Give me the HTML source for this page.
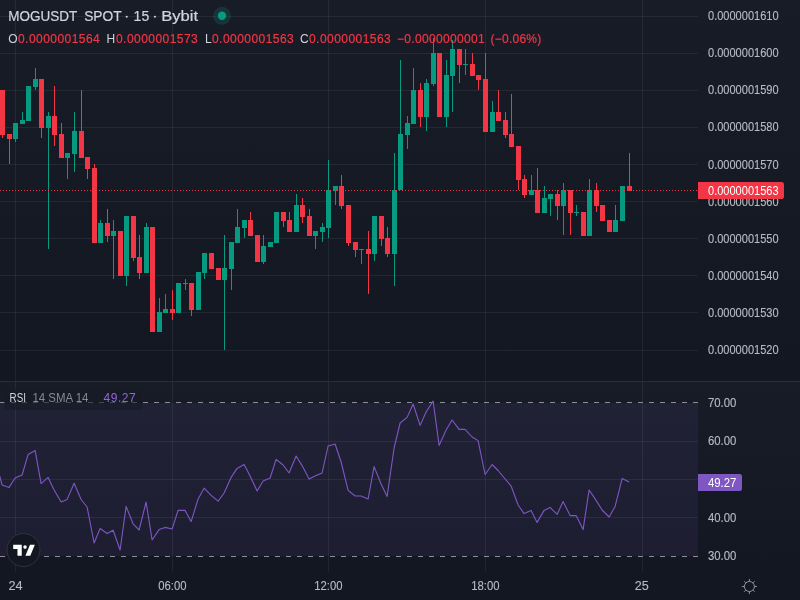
<!DOCTYPE html>
<html><head><meta charset="utf-8"><title>MOGUSDT SPOT 15 Bybit</title>
<style>
html,body{margin:0;padding:0;background:#131722;overflow:hidden;}
body{width:800px;height:600px;font-family:"Liberation Sans",sans-serif;}
svg{display:block;will-change:transform;}
</style></head><body>
<svg width="800" height="600" viewBox="0 0 800 600">
<defs><linearGradient id="bg" x1="0" y1="0" x2="0" y2="1"><stop offset="0" stop-color="#181c27"/><stop offset="1" stop-color="#131722"/></linearGradient></defs>
<rect x="0" y="0" width="800" height="600" fill="#131722"/>
<rect x="0" y="0" width="800" height="381" fill="url(#bg)"/>
<rect x="0" y="382" width="800" height="190" fill="url(#bg)"/>
<rect x="0" y="403" width="698" height="153" fill="#7e57c2" fill-opacity="0.1"/>
<g fill="#f0f3fa" fill-opacity="0.065" shape-rendering="crispEdges">
<rect x="15" y="0" width="1" height="381"/>
<rect x="15" y="382" width="1" height="190"/>
<rect x="172" y="0" width="1" height="381"/>
<rect x="172" y="382" width="1" height="190"/>
<rect x="328" y="0" width="1" height="381"/>
<rect x="328" y="382" width="1" height="190"/>
<rect x="485" y="0" width="1" height="381"/>
<rect x="485" y="382" width="1" height="190"/>
<rect x="642" y="0" width="1" height="381"/>
<rect x="642" y="382" width="1" height="190"/>
<rect x="0" y="16" width="698" height="1"/>
<rect x="0" y="53" width="698" height="1"/>
<rect x="0" y="90" width="698" height="1"/>
<rect x="0" y="127" width="698" height="1"/>
<rect x="0" y="164" width="698" height="1"/>
<rect x="0" y="201" width="698" height="1"/>
<rect x="0" y="238" width="698" height="1"/>
<rect x="0" y="275" width="698" height="1"/>
<rect x="0" y="312" width="698" height="1"/>
<rect x="0" y="350" width="698" height="1"/>
</g>
<g fill="#f0f3fa" fill-opacity="0.065" shape-rendering="crispEdges">
<rect x="0" y="441" width="698" height="1"/>
<rect x="0" y="479" width="698" height="1"/>
<rect x="0" y="517" width="698" height="1"/>
</g>
<rect x="0" y="381" width="800" height="1" fill="#2a2e39" shape-rendering="crispEdges"/>
<g fill="#8b8e98" shape-rendering="crispEdges">
<rect x="0" y="402" width="5" height="1"/>
<rect x="11" y="402" width="5" height="1"/>
<rect x="22" y="402" width="5" height="1"/>
<rect x="33" y="402" width="5" height="1"/>
<rect x="44" y="402" width="5" height="1"/>
<rect x="55" y="402" width="5" height="1"/>
<rect x="66" y="402" width="5" height="1"/>
<rect x="77" y="402" width="5" height="1"/>
<rect x="88" y="402" width="5" height="1"/>
<rect x="99" y="402" width="5" height="1"/>
<rect x="110" y="402" width="5" height="1"/>
<rect x="121" y="402" width="5" height="1"/>
<rect x="132" y="402" width="5" height="1"/>
<rect x="143" y="402" width="5" height="1"/>
<rect x="154" y="402" width="5" height="1"/>
<rect x="165" y="402" width="5" height="1"/>
<rect x="176" y="402" width="5" height="1"/>
<rect x="187" y="402" width="5" height="1"/>
<rect x="198" y="402" width="5" height="1"/>
<rect x="209" y="402" width="5" height="1"/>
<rect x="220" y="402" width="5" height="1"/>
<rect x="231" y="402" width="5" height="1"/>
<rect x="242" y="402" width="5" height="1"/>
<rect x="253" y="402" width="5" height="1"/>
<rect x="264" y="402" width="5" height="1"/>
<rect x="275" y="402" width="5" height="1"/>
<rect x="286" y="402" width="5" height="1"/>
<rect x="297" y="402" width="5" height="1"/>
<rect x="308" y="402" width="5" height="1"/>
<rect x="319" y="402" width="5" height="1"/>
<rect x="330" y="402" width="5" height="1"/>
<rect x="341" y="402" width="5" height="1"/>
<rect x="352" y="402" width="5" height="1"/>
<rect x="363" y="402" width="5" height="1"/>
<rect x="374" y="402" width="5" height="1"/>
<rect x="385" y="402" width="5" height="1"/>
<rect x="396" y="402" width="5" height="1"/>
<rect x="407" y="402" width="5" height="1"/>
<rect x="418" y="402" width="5" height="1"/>
<rect x="429" y="402" width="5" height="1"/>
<rect x="440" y="402" width="5" height="1"/>
<rect x="451" y="402" width="5" height="1"/>
<rect x="462" y="402" width="5" height="1"/>
<rect x="473" y="402" width="5" height="1"/>
<rect x="484" y="402" width="5" height="1"/>
<rect x="495" y="402" width="5" height="1"/>
<rect x="506" y="402" width="5" height="1"/>
<rect x="517" y="402" width="5" height="1"/>
<rect x="528" y="402" width="5" height="1"/>
<rect x="539" y="402" width="5" height="1"/>
<rect x="550" y="402" width="5" height="1"/>
<rect x="561" y="402" width="5" height="1"/>
<rect x="572" y="402" width="5" height="1"/>
<rect x="583" y="402" width="5" height="1"/>
<rect x="594" y="402" width="5" height="1"/>
<rect x="605" y="402" width="5" height="1"/>
<rect x="616" y="402" width="5" height="1"/>
<rect x="627" y="402" width="5" height="1"/>
<rect x="638" y="402" width="5" height="1"/>
<rect x="649" y="402" width="5" height="1"/>
<rect x="660" y="402" width="5" height="1"/>
<rect x="671" y="402" width="5" height="1"/>
<rect x="682" y="402" width="5" height="1"/>
<rect x="693" y="402" width="5" height="1"/>
<rect x="0" y="556" width="5" height="1"/>
<rect x="11" y="556" width="5" height="1"/>
<rect x="22" y="556" width="5" height="1"/>
<rect x="33" y="556" width="5" height="1"/>
<rect x="44" y="556" width="5" height="1"/>
<rect x="55" y="556" width="5" height="1"/>
<rect x="66" y="556" width="5" height="1"/>
<rect x="77" y="556" width="5" height="1"/>
<rect x="88" y="556" width="5" height="1"/>
<rect x="99" y="556" width="5" height="1"/>
<rect x="110" y="556" width="5" height="1"/>
<rect x="121" y="556" width="5" height="1"/>
<rect x="132" y="556" width="5" height="1"/>
<rect x="143" y="556" width="5" height="1"/>
<rect x="154" y="556" width="5" height="1"/>
<rect x="165" y="556" width="5" height="1"/>
<rect x="176" y="556" width="5" height="1"/>
<rect x="187" y="556" width="5" height="1"/>
<rect x="198" y="556" width="5" height="1"/>
<rect x="209" y="556" width="5" height="1"/>
<rect x="220" y="556" width="5" height="1"/>
<rect x="231" y="556" width="5" height="1"/>
<rect x="242" y="556" width="5" height="1"/>
<rect x="253" y="556" width="5" height="1"/>
<rect x="264" y="556" width="5" height="1"/>
<rect x="275" y="556" width="5" height="1"/>
<rect x="286" y="556" width="5" height="1"/>
<rect x="297" y="556" width="5" height="1"/>
<rect x="308" y="556" width="5" height="1"/>
<rect x="319" y="556" width="5" height="1"/>
<rect x="330" y="556" width="5" height="1"/>
<rect x="341" y="556" width="5" height="1"/>
<rect x="352" y="556" width="5" height="1"/>
<rect x="363" y="556" width="5" height="1"/>
<rect x="374" y="556" width="5" height="1"/>
<rect x="385" y="556" width="5" height="1"/>
<rect x="396" y="556" width="5" height="1"/>
<rect x="407" y="556" width="5" height="1"/>
<rect x="418" y="556" width="5" height="1"/>
<rect x="429" y="556" width="5" height="1"/>
<rect x="440" y="556" width="5" height="1"/>
<rect x="451" y="556" width="5" height="1"/>
<rect x="462" y="556" width="5" height="1"/>
<rect x="473" y="556" width="5" height="1"/>
<rect x="484" y="556" width="5" height="1"/>
<rect x="495" y="556" width="5" height="1"/>
<rect x="506" y="556" width="5" height="1"/>
<rect x="517" y="556" width="5" height="1"/>
<rect x="528" y="556" width="5" height="1"/>
<rect x="539" y="556" width="5" height="1"/>
<rect x="550" y="556" width="5" height="1"/>
<rect x="561" y="556" width="5" height="1"/>
<rect x="572" y="556" width="5" height="1"/>
<rect x="583" y="556" width="5" height="1"/>
<rect x="594" y="556" width="5" height="1"/>
<rect x="605" y="556" width="5" height="1"/>
<rect x="616" y="556" width="5" height="1"/>
<rect x="627" y="556" width="5" height="1"/>
<rect x="638" y="556" width="5" height="1"/>
<rect x="649" y="556" width="5" height="1"/>
<rect x="660" y="556" width="5" height="1"/>
<rect x="671" y="556" width="5" height="1"/>
<rect x="682" y="556" width="5" height="1"/>
<rect x="693" y="556" width="5" height="1"/>
</g>
<g shape-rendering="crispEdges">
<rect x="2" y="90" width="1" height="48" fill="#f23645"/>
<rect x="0" y="90" width="5" height="45" fill="#f23645"/>
<rect x="9" y="134" width="1" height="30" fill="#f23645"/>
<rect x="7" y="134" width="5" height="5" fill="#f23645"/>
<rect x="15" y="123" width="1" height="19" fill="#089981"/>
<rect x="13" y="123" width="5" height="16" fill="#089981"/>
<rect x="22" y="112" width="1" height="12" fill="#089981"/>
<rect x="20" y="120" width="5" height="4" fill="#089981"/>
<rect x="28" y="86" width="1" height="35" fill="#089981"/>
<rect x="26" y="86" width="5" height="35" fill="#089981"/>
<rect x="35" y="68" width="1" height="22" fill="#089981"/>
<rect x="33" y="79" width="5" height="8" fill="#089981"/>
<rect x="41" y="79" width="1" height="59" fill="#f23645"/>
<rect x="39" y="79" width="5" height="49" fill="#f23645"/>
<rect x="48" y="112" width="1" height="137" fill="#089981"/>
<rect x="46" y="116" width="5" height="12" fill="#089981"/>
<rect x="54" y="86" width="1" height="60" fill="#f23645"/>
<rect x="52" y="116" width="5" height="19" fill="#f23645"/>
<rect x="61" y="123" width="1" height="35" fill="#f23645"/>
<rect x="59" y="134" width="5" height="24" fill="#f23645"/>
<rect x="67" y="153" width="1" height="26" fill="#089981"/>
<rect x="65" y="153" width="5" height="5" fill="#089981"/>
<rect x="74" y="112" width="1" height="60" fill="#089981"/>
<rect x="72" y="131" width="5" height="23" fill="#089981"/>
<rect x="81" y="90" width="1" height="68" fill="#f23645"/>
<rect x="79" y="131" width="5" height="27" fill="#f23645"/>
<rect x="87" y="157" width="1" height="22" fill="#f23645"/>
<rect x="85" y="157" width="5" height="12" fill="#f23645"/>
<rect x="94" y="164" width="1" height="79" fill="#f23645"/>
<rect x="92" y="168" width="5" height="75" fill="#f23645"/>
<rect x="100" y="220" width="1" height="23" fill="#089981"/>
<rect x="98" y="223" width="5" height="20" fill="#089981"/>
<rect x="107" y="209" width="1" height="33" fill="#f23645"/>
<rect x="105" y="223" width="5" height="13" fill="#f23645"/>
<rect x="113" y="220" width="1" height="59" fill="#089981"/>
<rect x="111" y="231" width="5" height="5" fill="#089981"/>
<rect x="120" y="231" width="1" height="45" fill="#f23645"/>
<rect x="118" y="231" width="5" height="45" fill="#f23645"/>
<rect x="126" y="216" width="1" height="70" fill="#089981"/>
<rect x="124" y="216" width="5" height="60" fill="#089981"/>
<rect x="133" y="216" width="1" height="45" fill="#f23645"/>
<rect x="131" y="216" width="5" height="42" fill="#f23645"/>
<rect x="139" y="235" width="1" height="44" fill="#f23645"/>
<rect x="137" y="257" width="5" height="16" fill="#f23645"/>
<rect x="146" y="223" width="1" height="50" fill="#089981"/>
<rect x="144" y="227" width="5" height="46" fill="#089981"/>
<rect x="152" y="227" width="1" height="105" fill="#f23645"/>
<rect x="150" y="227" width="5" height="105" fill="#f23645"/>
<rect x="159" y="298" width="1" height="34" fill="#089981"/>
<rect x="157" y="312" width="5" height="20" fill="#089981"/>
<rect x="165" y="294" width="1" height="19" fill="#089981"/>
<rect x="163" y="309" width="5" height="4" fill="#089981"/>
<rect x="172" y="290" width="1" height="30" fill="#f23645"/>
<rect x="170" y="309" width="5" height="4" fill="#f23645"/>
<rect x="178" y="283" width="1" height="30" fill="#089981"/>
<rect x="176" y="283" width="5" height="30" fill="#089981"/>
<rect x="185" y="279" width="1" height="11" fill="#089981"/>
<rect x="183" y="283" width="5" height="1" fill="#089981"/>
<rect x="191" y="283" width="1" height="33" fill="#f23645"/>
<rect x="189" y="283" width="5" height="27" fill="#f23645"/>
<rect x="198" y="272" width="1" height="38" fill="#089981"/>
<rect x="196" y="272" width="5" height="38" fill="#089981"/>
<rect x="204" y="253" width="1" height="26" fill="#089981"/>
<rect x="202" y="253" width="5" height="20" fill="#089981"/>
<rect x="211" y="253" width="1" height="16" fill="#f23645"/>
<rect x="209" y="253" width="5" height="16" fill="#f23645"/>
<rect x="218" y="268" width="1" height="12" fill="#f23645"/>
<rect x="216" y="268" width="5" height="12" fill="#f23645"/>
<rect x="224" y="235" width="1" height="115" fill="#089981"/>
<rect x="222" y="268" width="5" height="12" fill="#089981"/>
<rect x="231" y="242" width="1" height="48" fill="#089981"/>
<rect x="229" y="242" width="5" height="27" fill="#089981"/>
<rect x="237" y="209" width="1" height="34" fill="#089981"/>
<rect x="235" y="227" width="5" height="16" fill="#089981"/>
<rect x="244" y="220" width="1" height="18" fill="#089981"/>
<rect x="242" y="220" width="5" height="8" fill="#089981"/>
<rect x="250" y="212" width="1" height="24" fill="#f23645"/>
<rect x="248" y="220" width="5" height="16" fill="#f23645"/>
<rect x="257" y="235" width="1" height="27" fill="#f23645"/>
<rect x="255" y="235" width="5" height="27" fill="#f23645"/>
<rect x="263" y="235" width="1" height="29" fill="#089981"/>
<rect x="261" y="246" width="5" height="16" fill="#089981"/>
<rect x="270" y="242" width="1" height="5" fill="#089981"/>
<rect x="268" y="242" width="5" height="5" fill="#089981"/>
<rect x="276" y="212" width="1" height="31" fill="#089981"/>
<rect x="274" y="212" width="5" height="31" fill="#089981"/>
<rect x="283" y="212" width="1" height="15" fill="#f23645"/>
<rect x="281" y="212" width="5" height="9" fill="#f23645"/>
<rect x="289" y="212" width="1" height="20" fill="#f23645"/>
<rect x="287" y="220" width="5" height="12" fill="#f23645"/>
<rect x="296" y="194" width="1" height="38" fill="#089981"/>
<rect x="294" y="205" width="5" height="27" fill="#089981"/>
<rect x="302" y="198" width="1" height="25" fill="#f23645"/>
<rect x="300" y="205" width="5" height="12" fill="#f23645"/>
<rect x="309" y="209" width="1" height="27" fill="#f23645"/>
<rect x="307" y="216" width="5" height="20" fill="#f23645"/>
<rect x="315" y="231" width="1" height="18" fill="#089981"/>
<rect x="313" y="231" width="5" height="5" fill="#089981"/>
<rect x="322" y="223" width="1" height="19" fill="#089981"/>
<rect x="320" y="227" width="5" height="5" fill="#089981"/>
<rect x="328" y="160" width="1" height="78" fill="#089981"/>
<rect x="326" y="190" width="5" height="38" fill="#089981"/>
<rect x="335" y="186" width="1" height="19" fill="#089981"/>
<rect x="333" y="186" width="5" height="5" fill="#089981"/>
<rect x="341" y="175" width="1" height="34" fill="#f23645"/>
<rect x="339" y="186" width="5" height="20" fill="#f23645"/>
<rect x="348" y="205" width="1" height="41" fill="#f23645"/>
<rect x="346" y="205" width="5" height="38" fill="#f23645"/>
<rect x="355" y="242" width="1" height="15" fill="#f23645"/>
<rect x="353" y="242" width="5" height="8" fill="#f23645"/>
<rect x="361" y="249" width="1" height="15" fill="#089981"/>
<rect x="359" y="249" width="5" height="1" fill="#089981"/>
<rect x="368" y="231" width="1" height="63" fill="#f23645"/>
<rect x="366" y="249" width="5" height="5" fill="#f23645"/>
<rect x="374" y="216" width="1" height="45" fill="#089981"/>
<rect x="372" y="216" width="5" height="38" fill="#089981"/>
<rect x="381" y="216" width="1" height="30" fill="#f23645"/>
<rect x="379" y="216" width="5" height="23" fill="#f23645"/>
<rect x="387" y="227" width="1" height="30" fill="#f23645"/>
<rect x="385" y="238" width="5" height="16" fill="#f23645"/>
<rect x="394" y="153" width="1" height="133" fill="#089981"/>
<rect x="392" y="190" width="5" height="64" fill="#089981"/>
<rect x="400" y="60" width="1" height="130" fill="#089981"/>
<rect x="398" y="134" width="5" height="56" fill="#089981"/>
<rect x="407" y="116" width="1" height="33" fill="#089981"/>
<rect x="405" y="123" width="5" height="12" fill="#089981"/>
<rect x="413" y="68" width="1" height="56" fill="#089981"/>
<rect x="411" y="90" width="5" height="34" fill="#089981"/>
<rect x="420" y="83" width="1" height="44" fill="#f23645"/>
<rect x="418" y="90" width="5" height="27" fill="#f23645"/>
<rect x="426" y="79" width="1" height="52" fill="#089981"/>
<rect x="424" y="83" width="5" height="34" fill="#089981"/>
<rect x="433" y="38" width="1" height="48" fill="#089981"/>
<rect x="431" y="53" width="5" height="31" fill="#089981"/>
<rect x="439" y="53" width="1" height="64" fill="#f23645"/>
<rect x="437" y="53" width="5" height="64" fill="#f23645"/>
<rect x="446" y="60" width="1" height="67" fill="#089981"/>
<rect x="444" y="75" width="5" height="42" fill="#089981"/>
<rect x="452" y="40" width="1" height="72" fill="#089981"/>
<rect x="450" y="49" width="5" height="27" fill="#089981"/>
<rect x="459" y="49" width="1" height="34" fill="#f23645"/>
<rect x="457" y="49" width="5" height="16" fill="#f23645"/>
<rect x="465" y="49" width="1" height="26" fill="#089981"/>
<rect x="463" y="64" width="5" height="1" fill="#089981"/>
<rect x="472" y="53" width="1" height="23" fill="#f23645"/>
<rect x="470" y="64" width="5" height="12" fill="#f23645"/>
<rect x="478" y="75" width="1" height="15" fill="#f23645"/>
<rect x="476" y="75" width="5" height="5" fill="#f23645"/>
<rect x="485" y="53" width="1" height="79" fill="#f23645"/>
<rect x="483" y="79" width="5" height="53" fill="#f23645"/>
<rect x="492" y="101" width="1" height="31" fill="#089981"/>
<rect x="490" y="112" width="5" height="20" fill="#089981"/>
<rect x="498" y="90" width="1" height="31" fill="#f23645"/>
<rect x="496" y="112" width="5" height="9" fill="#f23645"/>
<rect x="505" y="112" width="1" height="26" fill="#f23645"/>
<rect x="503" y="120" width="5" height="15" fill="#f23645"/>
<rect x="511" y="94" width="1" height="53" fill="#f23645"/>
<rect x="509" y="134" width="5" height="13" fill="#f23645"/>
<rect x="518" y="146" width="1" height="44" fill="#f23645"/>
<rect x="516" y="146" width="5" height="34" fill="#f23645"/>
<rect x="524" y="175" width="1" height="23" fill="#f23645"/>
<rect x="522" y="179" width="5" height="16" fill="#f23645"/>
<rect x="531" y="175" width="1" height="20" fill="#089981"/>
<rect x="529" y="190" width="5" height="5" fill="#089981"/>
<rect x="537" y="168" width="1" height="45" fill="#f23645"/>
<rect x="535" y="190" width="5" height="23" fill="#f23645"/>
<rect x="544" y="186" width="1" height="27" fill="#089981"/>
<rect x="542" y="198" width="5" height="15" fill="#089981"/>
<rect x="550" y="194" width="1" height="22" fill="#089981"/>
<rect x="548" y="194" width="5" height="5" fill="#089981"/>
<rect x="557" y="190" width="1" height="30" fill="#f23645"/>
<rect x="555" y="194" width="5" height="12" fill="#f23645"/>
<rect x="563" y="183" width="1" height="52" fill="#089981"/>
<rect x="561" y="190" width="5" height="16" fill="#089981"/>
<rect x="570" y="190" width="1" height="45" fill="#f23645"/>
<rect x="568" y="190" width="5" height="23" fill="#f23645"/>
<rect x="576" y="205" width="1" height="11" fill="#089981"/>
<rect x="574" y="212" width="5" height="1" fill="#089981"/>
<rect x="583" y="212" width="1" height="24" fill="#f23645"/>
<rect x="581" y="212" width="5" height="24" fill="#f23645"/>
<rect x="589" y="179" width="1" height="57" fill="#089981"/>
<rect x="587" y="190" width="5" height="46" fill="#089981"/>
<rect x="596" y="183" width="1" height="29" fill="#f23645"/>
<rect x="594" y="190" width="5" height="16" fill="#f23645"/>
<rect x="602" y="205" width="1" height="16" fill="#f23645"/>
<rect x="600" y="205" width="5" height="16" fill="#f23645"/>
<rect x="609" y="220" width="1" height="12" fill="#f23645"/>
<rect x="607" y="220" width="5" height="12" fill="#f23645"/>
<rect x="615" y="205" width="1" height="27" fill="#089981"/>
<rect x="613" y="220" width="5" height="12" fill="#089981"/>
<rect x="622" y="186" width="1" height="35" fill="#089981"/>
<rect x="620" y="186" width="5" height="35" fill="#089981"/>
<rect x="629" y="153" width="1" height="38" fill="#f23645"/>
<rect x="627" y="186" width="5" height="5" fill="#f23645"/>
</g>
<g fill="#f23645" shape-rendering="crispEdges">
<rect x="0" y="190" width="1" height="1"/>
<rect x="3" y="190" width="1" height="1"/>
<rect x="6" y="190" width="1" height="1"/>
<rect x="9" y="190" width="1" height="1"/>
<rect x="12" y="190" width="1" height="1"/>
<rect x="15" y="190" width="1" height="1"/>
<rect x="18" y="190" width="1" height="1"/>
<rect x="21" y="190" width="1" height="1"/>
<rect x="24" y="190" width="1" height="1"/>
<rect x="27" y="190" width="1" height="1"/>
<rect x="30" y="190" width="1" height="1"/>
<rect x="33" y="190" width="1" height="1"/>
<rect x="36" y="190" width="1" height="1"/>
<rect x="39" y="190" width="1" height="1"/>
<rect x="42" y="190" width="1" height="1"/>
<rect x="45" y="190" width="1" height="1"/>
<rect x="48" y="190" width="1" height="1"/>
<rect x="51" y="190" width="1" height="1"/>
<rect x="54" y="190" width="1" height="1"/>
<rect x="57" y="190" width="1" height="1"/>
<rect x="60" y="190" width="1" height="1"/>
<rect x="63" y="190" width="1" height="1"/>
<rect x="66" y="190" width="1" height="1"/>
<rect x="69" y="190" width="1" height="1"/>
<rect x="72" y="190" width="1" height="1"/>
<rect x="75" y="190" width="1" height="1"/>
<rect x="78" y="190" width="1" height="1"/>
<rect x="81" y="190" width="1" height="1"/>
<rect x="84" y="190" width="1" height="1"/>
<rect x="87" y="190" width="1" height="1"/>
<rect x="90" y="190" width="1" height="1"/>
<rect x="93" y="190" width="1" height="1"/>
<rect x="96" y="190" width="1" height="1"/>
<rect x="99" y="190" width="1" height="1"/>
<rect x="102" y="190" width="1" height="1"/>
<rect x="105" y="190" width="1" height="1"/>
<rect x="108" y="190" width="1" height="1"/>
<rect x="111" y="190" width="1" height="1"/>
<rect x="114" y="190" width="1" height="1"/>
<rect x="117" y="190" width="1" height="1"/>
<rect x="120" y="190" width="1" height="1"/>
<rect x="123" y="190" width="1" height="1"/>
<rect x="126" y="190" width="1" height="1"/>
<rect x="129" y="190" width="1" height="1"/>
<rect x="132" y="190" width="1" height="1"/>
<rect x="135" y="190" width="1" height="1"/>
<rect x="138" y="190" width="1" height="1"/>
<rect x="141" y="190" width="1" height="1"/>
<rect x="144" y="190" width="1" height="1"/>
<rect x="147" y="190" width="1" height="1"/>
<rect x="150" y="190" width="1" height="1"/>
<rect x="153" y="190" width="1" height="1"/>
<rect x="156" y="190" width="1" height="1"/>
<rect x="159" y="190" width="1" height="1"/>
<rect x="162" y="190" width="1" height="1"/>
<rect x="165" y="190" width="1" height="1"/>
<rect x="168" y="190" width="1" height="1"/>
<rect x="171" y="190" width="1" height="1"/>
<rect x="174" y="190" width="1" height="1"/>
<rect x="177" y="190" width="1" height="1"/>
<rect x="180" y="190" width="1" height="1"/>
<rect x="183" y="190" width="1" height="1"/>
<rect x="186" y="190" width="1" height="1"/>
<rect x="189" y="190" width="1" height="1"/>
<rect x="192" y="190" width="1" height="1"/>
<rect x="195" y="190" width="1" height="1"/>
<rect x="198" y="190" width="1" height="1"/>
<rect x="201" y="190" width="1" height="1"/>
<rect x="204" y="190" width="1" height="1"/>
<rect x="207" y="190" width="1" height="1"/>
<rect x="210" y="190" width="1" height="1"/>
<rect x="213" y="190" width="1" height="1"/>
<rect x="216" y="190" width="1" height="1"/>
<rect x="219" y="190" width="1" height="1"/>
<rect x="222" y="190" width="1" height="1"/>
<rect x="225" y="190" width="1" height="1"/>
<rect x="228" y="190" width="1" height="1"/>
<rect x="231" y="190" width="1" height="1"/>
<rect x="234" y="190" width="1" height="1"/>
<rect x="237" y="190" width="1" height="1"/>
<rect x="240" y="190" width="1" height="1"/>
<rect x="243" y="190" width="1" height="1"/>
<rect x="246" y="190" width="1" height="1"/>
<rect x="249" y="190" width="1" height="1"/>
<rect x="252" y="190" width="1" height="1"/>
<rect x="255" y="190" width="1" height="1"/>
<rect x="258" y="190" width="1" height="1"/>
<rect x="261" y="190" width="1" height="1"/>
<rect x="264" y="190" width="1" height="1"/>
<rect x="267" y="190" width="1" height="1"/>
<rect x="270" y="190" width="1" height="1"/>
<rect x="273" y="190" width="1" height="1"/>
<rect x="276" y="190" width="1" height="1"/>
<rect x="279" y="190" width="1" height="1"/>
<rect x="282" y="190" width="1" height="1"/>
<rect x="285" y="190" width="1" height="1"/>
<rect x="288" y="190" width="1" height="1"/>
<rect x="291" y="190" width="1" height="1"/>
<rect x="294" y="190" width="1" height="1"/>
<rect x="297" y="190" width="1" height="1"/>
<rect x="300" y="190" width="1" height="1"/>
<rect x="303" y="190" width="1" height="1"/>
<rect x="306" y="190" width="1" height="1"/>
<rect x="309" y="190" width="1" height="1"/>
<rect x="312" y="190" width="1" height="1"/>
<rect x="315" y="190" width="1" height="1"/>
<rect x="318" y="190" width="1" height="1"/>
<rect x="321" y="190" width="1" height="1"/>
<rect x="324" y="190" width="1" height="1"/>
<rect x="327" y="190" width="1" height="1"/>
<rect x="330" y="190" width="1" height="1"/>
<rect x="333" y="190" width="1" height="1"/>
<rect x="336" y="190" width="1" height="1"/>
<rect x="339" y="190" width="1" height="1"/>
<rect x="342" y="190" width="1" height="1"/>
<rect x="345" y="190" width="1" height="1"/>
<rect x="348" y="190" width="1" height="1"/>
<rect x="351" y="190" width="1" height="1"/>
<rect x="354" y="190" width="1" height="1"/>
<rect x="357" y="190" width="1" height="1"/>
<rect x="360" y="190" width="1" height="1"/>
<rect x="363" y="190" width="1" height="1"/>
<rect x="366" y="190" width="1" height="1"/>
<rect x="369" y="190" width="1" height="1"/>
<rect x="372" y="190" width="1" height="1"/>
<rect x="375" y="190" width="1" height="1"/>
<rect x="378" y="190" width="1" height="1"/>
<rect x="381" y="190" width="1" height="1"/>
<rect x="384" y="190" width="1" height="1"/>
<rect x="387" y="190" width="1" height="1"/>
<rect x="390" y="190" width="1" height="1"/>
<rect x="393" y="190" width="1" height="1"/>
<rect x="396" y="190" width="1" height="1"/>
<rect x="399" y="190" width="1" height="1"/>
<rect x="402" y="190" width="1" height="1"/>
<rect x="405" y="190" width="1" height="1"/>
<rect x="408" y="190" width="1" height="1"/>
<rect x="411" y="190" width="1" height="1"/>
<rect x="414" y="190" width="1" height="1"/>
<rect x="417" y="190" width="1" height="1"/>
<rect x="420" y="190" width="1" height="1"/>
<rect x="423" y="190" width="1" height="1"/>
<rect x="426" y="190" width="1" height="1"/>
<rect x="429" y="190" width="1" height="1"/>
<rect x="432" y="190" width="1" height="1"/>
<rect x="435" y="190" width="1" height="1"/>
<rect x="438" y="190" width="1" height="1"/>
<rect x="441" y="190" width="1" height="1"/>
<rect x="444" y="190" width="1" height="1"/>
<rect x="447" y="190" width="1" height="1"/>
<rect x="450" y="190" width="1" height="1"/>
<rect x="453" y="190" width="1" height="1"/>
<rect x="456" y="190" width="1" height="1"/>
<rect x="459" y="190" width="1" height="1"/>
<rect x="462" y="190" width="1" height="1"/>
<rect x="465" y="190" width="1" height="1"/>
<rect x="468" y="190" width="1" height="1"/>
<rect x="471" y="190" width="1" height="1"/>
<rect x="474" y="190" width="1" height="1"/>
<rect x="477" y="190" width="1" height="1"/>
<rect x="480" y="190" width="1" height="1"/>
<rect x="483" y="190" width="1" height="1"/>
<rect x="486" y="190" width="1" height="1"/>
<rect x="489" y="190" width="1" height="1"/>
<rect x="492" y="190" width="1" height="1"/>
<rect x="495" y="190" width="1" height="1"/>
<rect x="498" y="190" width="1" height="1"/>
<rect x="501" y="190" width="1" height="1"/>
<rect x="504" y="190" width="1" height="1"/>
<rect x="507" y="190" width="1" height="1"/>
<rect x="510" y="190" width="1" height="1"/>
<rect x="513" y="190" width="1" height="1"/>
<rect x="516" y="190" width="1" height="1"/>
<rect x="519" y="190" width="1" height="1"/>
<rect x="522" y="190" width="1" height="1"/>
<rect x="525" y="190" width="1" height="1"/>
<rect x="528" y="190" width="1" height="1"/>
<rect x="531" y="190" width="1" height="1"/>
<rect x="534" y="190" width="1" height="1"/>
<rect x="537" y="190" width="1" height="1"/>
<rect x="540" y="190" width="1" height="1"/>
<rect x="543" y="190" width="1" height="1"/>
<rect x="546" y="190" width="1" height="1"/>
<rect x="549" y="190" width="1" height="1"/>
<rect x="552" y="190" width="1" height="1"/>
<rect x="555" y="190" width="1" height="1"/>
<rect x="558" y="190" width="1" height="1"/>
<rect x="561" y="190" width="1" height="1"/>
<rect x="564" y="190" width="1" height="1"/>
<rect x="567" y="190" width="1" height="1"/>
<rect x="570" y="190" width="1" height="1"/>
<rect x="573" y="190" width="1" height="1"/>
<rect x="576" y="190" width="1" height="1"/>
<rect x="579" y="190" width="1" height="1"/>
<rect x="582" y="190" width="1" height="1"/>
<rect x="585" y="190" width="1" height="1"/>
<rect x="588" y="190" width="1" height="1"/>
<rect x="591" y="190" width="1" height="1"/>
<rect x="594" y="190" width="1" height="1"/>
<rect x="597" y="190" width="1" height="1"/>
<rect x="600" y="190" width="1" height="1"/>
<rect x="603" y="190" width="1" height="1"/>
<rect x="606" y="190" width="1" height="1"/>
<rect x="609" y="190" width="1" height="1"/>
<rect x="612" y="190" width="1" height="1"/>
<rect x="615" y="190" width="1" height="1"/>
<rect x="618" y="190" width="1" height="1"/>
<rect x="621" y="190" width="1" height="1"/>
<rect x="624" y="190" width="1" height="1"/>
<rect x="627" y="190" width="1" height="1"/>
<rect x="630" y="190" width="1" height="1"/>
<rect x="633" y="190" width="1" height="1"/>
<rect x="636" y="190" width="1" height="1"/>
<rect x="639" y="190" width="1" height="1"/>
<rect x="642" y="190" width="1" height="1"/>
<rect x="645" y="190" width="1" height="1"/>
<rect x="648" y="190" width="1" height="1"/>
<rect x="651" y="190" width="1" height="1"/>
<rect x="654" y="190" width="1" height="1"/>
<rect x="657" y="190" width="1" height="1"/>
<rect x="660" y="190" width="1" height="1"/>
<rect x="663" y="190" width="1" height="1"/>
<rect x="666" y="190" width="1" height="1"/>
<rect x="669" y="190" width="1" height="1"/>
<rect x="672" y="190" width="1" height="1"/>
<rect x="675" y="190" width="1" height="1"/>
<rect x="678" y="190" width="1" height="1"/>
<rect x="681" y="190" width="1" height="1"/>
<rect x="684" y="190" width="1" height="1"/>
<rect x="687" y="190" width="1" height="1"/>
<rect x="690" y="190" width="1" height="1"/>
<rect x="693" y="190" width="1" height="1"/>
<rect x="696" y="190" width="1" height="1"/>
</g>
<polyline points="-4,462 2.1,485.0 9.1,487.4 15.1,478.0 22.1,475.0 28.1,454.4 35.1,450.4 41.1,483.6 48.1,477.4 54.1,490.0 61.1,502.0 67.1,499.4 74.1,483.3 81.1,499.5 87.1,507.0 94.1,543.0 100.1,528.5 107.1,533.5 113.1,530.2 120.1,550.0 126.1,506.4 133.1,523.8 139.1,530.0 146.1,502.0 152.1,540.0 159.1,529.6 165.1,527.4 172.1,529.0 178.1,510.4 185.1,510.4 191.1,521.6 198.1,499.0 204.1,488.2 211.1,495.3 218.1,501.2 224.1,493.0 231.1,477.4 237.1,468.4 244.1,464.4 250.1,476.0 257.1,491.0 263.1,481.0 270.1,478.0 276.1,459.4 283.1,465.0 289.1,473.0 296.1,456.0 302.1,465.6 309.1,479.0 315.1,476.0 322.1,473.0 328.1,446.0 335.1,444.0 341.1,462.0 348.1,490.4 355.1,496.0 361.1,496.0 368.1,499.0 374.1,466.6 381.1,484.0 387.1,496.4 394.1,448.0 400.1,423.0 407.1,417.4 413.1,404.0 420.1,425.4 426.1,412.0 433.1,401.0 439.1,445.4 446.1,430.0 452.1,420.0 459.1,429.4 465.1,429.4 472.1,437.0 478.1,440.6 485.1,474.5 492.1,464.5 498.1,470.5 505.1,479.0 511.1,486.0 518.1,505.0 524.1,513.6 531.1,510.4 537.1,522.4 544.1,510.4 550.1,507.4 557.1,514.4 563.1,501.4 570.1,515.6 576.1,515.6 583.1,529.6 589.1,490.0 596.1,500.4 602.1,510.0 609.1,517.0 615.1,506.4 622.1,478.6 629.1,482.0" fill="none" stroke="#7e57c2" stroke-width="1.1" stroke-linejoin="round"/>
<g font-family="Liberation Sans, sans-serif" font-size="12" fill="#b8bbc4" stroke="#b8bbc4" stroke-width="0.12">
<text x="708" y="20.30" textLength="70.6" lengthAdjust="spacingAndGlyphs">0.0000001610</text>
<text x="708" y="57.35" textLength="70.6" lengthAdjust="spacingAndGlyphs">0.0000001600</text>
<text x="708" y="94.40" textLength="70.6" lengthAdjust="spacingAndGlyphs">0.0000001590</text>
<text x="708" y="131.45" textLength="70.6" lengthAdjust="spacingAndGlyphs">0.0000001580</text>
<text x="708" y="168.50" textLength="70.6" lengthAdjust="spacingAndGlyphs">0.0000001570</text>
<text x="708" y="205.55" textLength="70.6" lengthAdjust="spacingAndGlyphs">0.0000001560</text>
<text x="708" y="242.60" textLength="70.6" lengthAdjust="spacingAndGlyphs">0.0000001550</text>
<text x="708" y="279.65" textLength="70.6" lengthAdjust="spacingAndGlyphs">0.0000001540</text>
<text x="708" y="316.70" textLength="70.6" lengthAdjust="spacingAndGlyphs">0.0000001530</text>
<text x="708" y="353.75" textLength="70.6" lengthAdjust="spacingAndGlyphs">0.0000001520</text>
<text x="708" y="407" textLength="28.4" lengthAdjust="spacingAndGlyphs">70.00</text>
<text x="708" y="445.2" textLength="28.4" lengthAdjust="spacingAndGlyphs">60.00</text>
<text x="708" y="483.5" textLength="28.4" lengthAdjust="spacingAndGlyphs">50.00</text>
<text x="708" y="521.8" textLength="28.4" lengthAdjust="spacingAndGlyphs">40.00</text>
<text x="708" y="560" textLength="28.4" lengthAdjust="spacingAndGlyphs">30.00</text>
<text x="8.4" y="590" textLength="14.2" lengthAdjust="spacingAndGlyphs">24</text>
<text x="158.2" y="590" textLength="28.3" lengthAdjust="spacingAndGlyphs">06:00</text>
<text x="314.2" y="590" textLength="28.3" lengthAdjust="spacingAndGlyphs">12:00</text>
<text x="471.2" y="590" textLength="28.3" lengthAdjust="spacingAndGlyphs">18:00</text>
<text x="634.7" y="590" textLength="14.0" lengthAdjust="spacingAndGlyphs">25</text>
</g>
<path d="M698 182H781.5a2.5 2.5 0 0 1 2.5 2.5V196.5a2.5 2.5 0 0 1 -2.5 2.5H698Z" fill="#f23645"/>
<text x="708" y="194.8" font-family="Liberation Sans, sans-serif" font-size="12" fill="#ffffff" textLength="70.6" lengthAdjust="spacingAndGlyphs">0.0000001563</text>
<path d="M698 474H739.5a2.5 2.5 0 0 1 2.5 2.5V488.5a2.5 2.5 0 0 1 -2.5 2.5H698Z" fill="#7e57c2"/>
<text x="708" y="486.8" font-family="Liberation Sans, sans-serif" font-size="12" fill="#ffffff" textLength="28.4" lengthAdjust="spacingAndGlyphs">49.27</text>
<g font-family="Liberation Sans, sans-serif">
<text x="8.3" y="21.3" font-size="14" fill="#d1d4dc" stroke="#d1d4dc" stroke-width="0.2" textLength="69" lengthAdjust="spacingAndGlyphs">MOGUSDT</text>
<text x="84.2" y="21.3" font-size="14" fill="#d1d4dc" stroke="#d1d4dc" stroke-width="0.2" textLength="37.5" lengthAdjust="spacingAndGlyphs">SPOT</text>
<text x="133.6" y="21.3" font-size="14" fill="#d1d4dc" stroke="#d1d4dc" stroke-width="0.2" textLength="15.6" lengthAdjust="spacingAndGlyphs">15</text>
<text x="161.2" y="21.3" font-size="14" fill="#d1d4dc" stroke="#d1d4dc" stroke-width="0.2" textLength="36.8" lengthAdjust="spacingAndGlyphs">Bybit</text>
<circle cx="126.7" cy="16.7" r="1.05" fill="#d1d4dc"/><circle cx="154.9" cy="16.7" r="1.05" fill="#d1d4dc"/>
<circle cx="222" cy="15.8" r="9" fill="#089981" fill-opacity="0.2"/>
<circle cx="222" cy="15.8" r="4.2" fill="#089981"/>
<text x="8.3" y="42.8" font-size="12" fill="#d1d4dc">O</text>
<text x="18" y="42.8" font-size="12" fill="#f23645" stroke="#f23645" stroke-width="0.2" textLength="81.7" lengthAdjust="spacing">0.0000001564</text>
<text x="106.5" y="42.8" font-size="12" fill="#d1d4dc">H</text>
<text x="116" y="42.8" font-size="12" fill="#f23645" stroke="#f23645" stroke-width="0.2" textLength="81.7" lengthAdjust="spacing">0.0000001573</text>
<text x="205" y="42.8" font-size="12" fill="#d1d4dc">L</text>
<text x="212" y="42.8" font-size="12" fill="#f23645" stroke="#f23645" stroke-width="0.2" textLength="81.7" lengthAdjust="spacing">0.0000001563</text>
<text x="300" y="42.8" font-size="12" fill="#d1d4dc">C</text>
<text x="309" y="42.8" font-size="12" fill="#f23645" stroke="#f23645" stroke-width="0.2" textLength="81.7" lengthAdjust="spacing">0.0000001563</text>
<text x="397" y="42.8" font-size="12" fill="#f23645" stroke="#f23645" stroke-width="0.2" textLength="87.6" lengthAdjust="spacing">−0.0000000001</text>
<text x="490.6" y="42.8" font-size="12" fill="#f23645" stroke="#f23645" stroke-width="0.2" textLength="50.6" lengthAdjust="spacing">(−0.06%)</text>
<rect x="4" y="389" width="138" height="21" rx="2" fill="#161a25" fill-opacity="0.6"/>
<text x="9.6" y="402.3" font-size="12" fill="#d1d4dc" textLength="16.4" lengthAdjust="spacingAndGlyphs">RSI</text>
<text x="32.4" y="402.3" font-size="12" fill="#868993" textLength="56" lengthAdjust="spacingAndGlyphs">14 SMA 14</text>
<text x="103.6" y="402.3" font-size="12" fill="#9166d8" textLength="32" lengthAdjust="spacing">49.27</text>
</g>
<circle cx="23.5" cy="550" r="16.5" fill="#131722" stroke="#2f3342" stroke-width="1"/>
<g transform="translate(13.2,542.3) scale(0.61)" fill="#ffffff"><path d="M14 22H7V11H0V4h14v18zM28 22h-8l7.5-18h8L28 22z"/><circle cx="19.4" cy="7.9" r="2.9"/></g>
<g transform="translate(749.4,586.5)" stroke="#9094a0" stroke-width="1" fill="none" stroke-linecap="butt"><circle cx="0" cy="0" r="5"/><line x1="5.20" y1="0.00" x2="7.50" y2="0.00"/><line x1="3.68" y1="3.68" x2="5.30" y2="5.30"/><line x1="0.00" y1="5.20" x2="0.00" y2="7.50"/><line x1="-3.68" y1="3.68" x2="-5.30" y2="5.30"/><line x1="-5.20" y1="0.00" x2="-7.50" y2="0.00"/><line x1="-3.68" y1="-3.68" x2="-5.30" y2="-5.30"/><line x1="-0.00" y1="-5.20" x2="-0.00" y2="-7.50"/><line x1="3.68" y1="-3.68" x2="5.30" y2="-5.30"/></g>
</svg>
</body></html>
